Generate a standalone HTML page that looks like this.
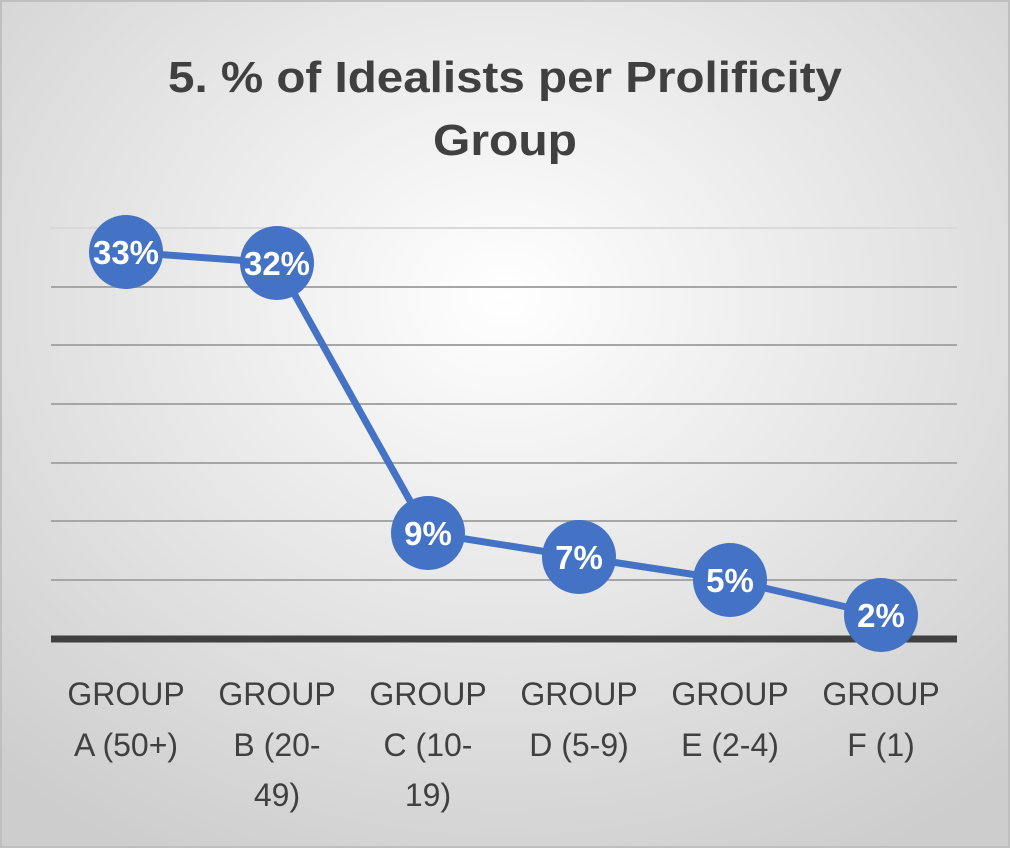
<!DOCTYPE html>
<html><head><style>
html,body{margin:0;padding:0;}
body{width:1010px;height:848px;overflow:hidden;}
</style></head><body>
<svg width="1010" height="848" xmlns="http://www.w3.org/2000/svg" font-family="'Liberation Sans', 'DejaVu Sans', sans-serif">
<defs>
<radialGradient id="bg" cx="50%" cy="35%" r="75%">
<stop offset="0" stop-color="#ffffff"/>
<stop offset="1" stop-color="#cdcdcd"/>
</radialGradient>
</defs>
<rect x="0" y="0" width="1010" height="848" fill="url(#bg)"/>
<rect x="1" y="1" width="1008" height="846" fill="none" stroke="#bfbfbf" stroke-width="2"/>
<text x="168" y="92" textLength="674" lengthAdjust="spacingAndGlyphs" font-size="44" font-weight="bold" fill="#404040">5. % of Idealists per Prolificity</text>
<text x="433" y="155" textLength="144" lengthAdjust="spacingAndGlyphs" font-size="44" font-weight="bold" fill="#404040">Group</text>
<g stroke="#a6a6a6" stroke-width="2">
<line x1="51" x2="957" y1="228" y2="228" stroke="#d9d9d9"/>
<line x1="51" x2="957" y1="287" y2="287"/>
<line x1="51" x2="957" y1="345" y2="345"/>
<line x1="51" x2="957" y1="404" y2="404"/>
<line x1="51" x2="957" y1="463" y2="463"/>
<line x1="51" x2="957" y1="521" y2="521"/>
<line x1="51" x2="957" y1="580" y2="580"/>
</g>
<line x1="51" x2="957" y1="639" y2="639" stroke="#404040" stroke-width="7"/>
<polyline points="126,252 277,263 428,533 579,557 730,580 881,615" fill="none" stroke="#4472c4" stroke-width="7" stroke-linejoin="round"/>
<g fill="#4472c4">
<circle cx="126" cy="252" r="37"/><circle cx="277" cy="263" r="37"/><circle cx="428" cy="533" r="37"/>
<circle cx="579" cy="557" r="37"/><circle cx="730" cy="580" r="37"/><circle cx="881" cy="615" r="37"/>
</g>
<g fill="#fff" font-size="33" font-weight="bold" text-anchor="middle">
<text x="126" y="264">33%</text><text x="277" y="275">32%</text><text x="428" y="545">9%</text>
<text x="579" y="569">7%</text><text x="730" y="592">5%</text><text x="881" y="627">2%</text>
</g>
<g fill="#404040" font-size="32" text-anchor="middle">
<text x="126" y="705">GROUP</text><text x="126" y="756">A (50+)</text>
<text x="277" y="705">GROUP</text><text x="277" y="756">B (20-</text><text x="277" y="806">49)</text>
<text x="428" y="705">GROUP</text><text x="428" y="756">C (10-</text><text x="428" y="806">19)</text>
<text x="579" y="705">GROUP</text><text x="579" y="756">D (5-9)</text>
<text x="730" y="705">GROUP</text><text x="730" y="756">E (2-4)</text>
<text x="881" y="705">GROUP</text><text x="881" y="756">F (1)</text>
</g>
</svg>
</body></html>
